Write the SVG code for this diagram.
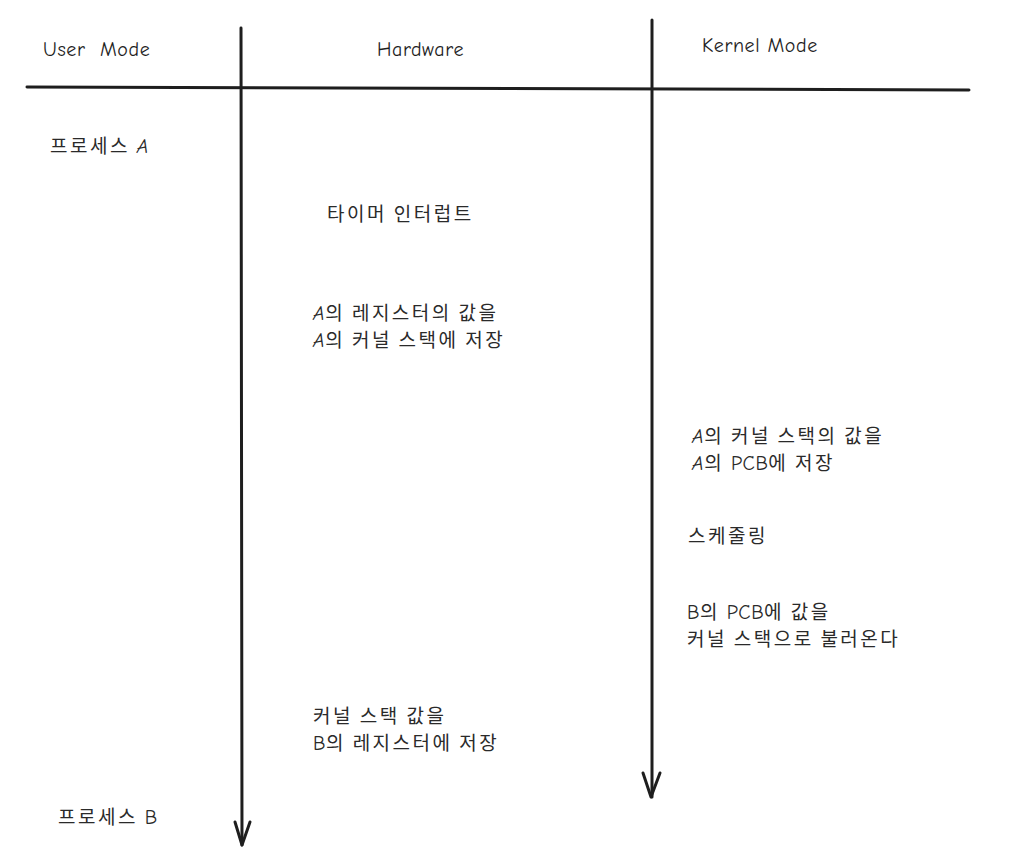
<svg xmlns="http://www.w3.org/2000/svg" width="1009" height="866" viewBox="0 0 1009 866">
<defs>
<style>
.ln{stroke:#1e1e1e;stroke-width:3;fill:none;stroke-linecap:round;stroke-linejoin:round}
.hd{font-family:"Comic Neue","DejaVu Sans","Noto Sans",sans-serif;font-size:20px;letter-spacing:0.6px;fill:#1e1e1e}
.t{font-family:"Noto Sans CJK KR","Liberation Sans",sans-serif;font-size:19px;letter-spacing:2.5px;fill:#2a2a2a}
.l{font-family:"Comic Neue","DejaVu Sans",sans-serif;font-size:20px;letter-spacing:0.5px}
.i{font-style:italic}
</style>
</defs>
<rect width="1009" height="866" fill="#ffffff"/>
<g id="connectors">
<path class="ln" d="M27 87 L969 90"/>
<path class="ln" d="M241 28 L242 845"/>
<path class="ln" d="M235 822 L242 845 L250 822"/>
<path class="ln" d="M652 20 L652 797"/>
<path class="ln" d="M643 773 L651 797 L660 773"/>
</g>
<g id="header-user"><text class="hd" x="43" y="56">User&#160;&#160;Mode</text></g>
<g id="header-hw"><text class="hd" x="377" y="56">Hardware</text></g>
<g id="header-kernel"><text class="hd" x="702" y="52">Kernel Mode</text></g>
<g id="proc-a"><text class="t" x="50" y="153">프로세스 <tspan class="l i">A</tspan></text></g>
<g id="timer"><text class="t" x="327" y="221">타이머 인터럽트</text></g>
<g id="save-reg"><text class="t" x="313" y="320"><tspan class="l i">A</tspan>의 레지스터의 값을</text><text class="t" x="313" y="347"><tspan class="l i">A</tspan>의 커널 스택에 저장</text></g>
<g id="save-pcb"><text class="t" x="692" y="443"><tspan class="l i">A</tspan>의 커널 스택의 값을</text><text class="t" x="692" y="470"><tspan class="l i">A</tspan>의 <tspan class="l">PCB</tspan>에 저장</text></g>
<g id="sched"><text class="t" x="688" y="543">스케줄링</text></g>
<g id="load-pcb"><text class="t" x="687" y="619"><tspan class="l">B</tspan>의 <tspan class="l">PCB</tspan>에 값을</text><text class="t" x="687" y="646">커널 스택으로 불러온다</text></g>
<g id="restore"><text class="t" x="313" y="723">커널 스택 값을</text><text class="t" x="313" y="750"><tspan class="l">B</tspan>의 레지스터에 저장</text></g>
<g id="proc-b"><text class="t" x="58" y="824">프로세스 <tspan class="l">B</tspan></text></g>
</svg>
